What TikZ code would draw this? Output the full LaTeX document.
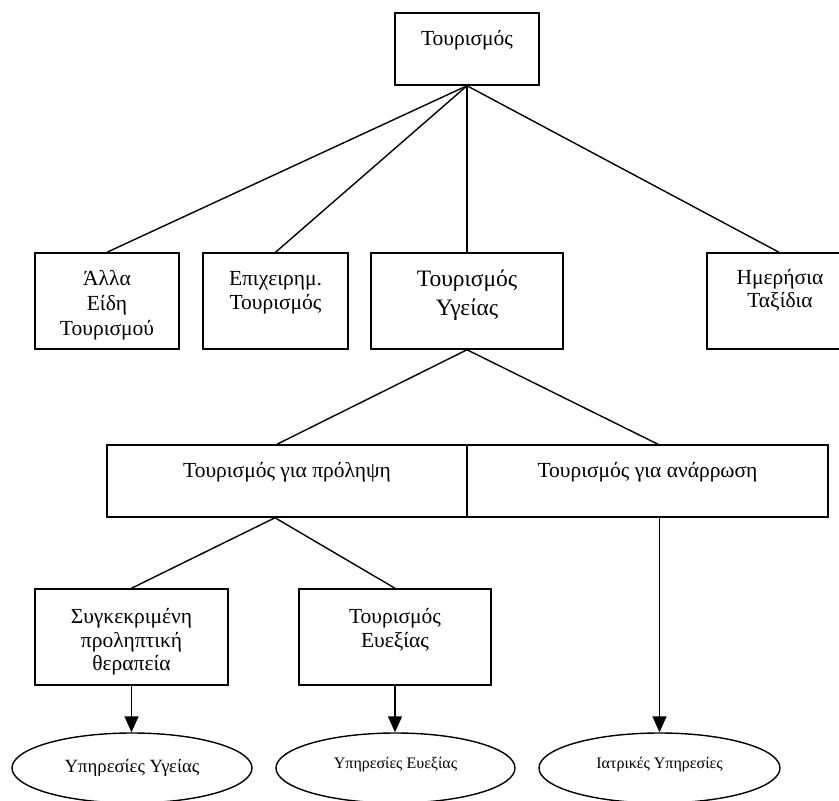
\documentclass[tikz,border=0pt]{standalone}
\usepackage{fontspec}
\setmainfont{Liberation Serif}
\usetikzlibrary{arrows.meta,shapes.geometric}
\begin{document}
\begin{tikzpicture}[x=1pt,y=-1pt,
  box/.style={draw,line width=1.5pt,rectangle,inner sep=0pt},
  oval/.style={draw,line width=1.4pt,ellipse,inner sep=0pt,minimum width=240pt,minimum height=70pt},
  txt/.style={inner sep=0pt,anchor=base,font=\fontsize{21.5}{25}\selectfont},
  bigtxt/.style={txt,font=\fontsize{23.5}{28}\selectfont},
  conn/.style={line width=1.4pt},
  arr/.style={line width=1.4pt,-{Triangle[length=16pt,width=14pt]}}]
\fill[white] (0,0) rectangle (839,801);
\useasboundingbox (0,0) rectangle (839,801);

% top
\node[box,minimum width=144pt,minimum height=72pt] (top) at (467,49) {};
\node[txt] (topt) at (467,45) {Τουρισμός};

% level 2
\node[box,minimum width=144pt,minimum height=96pt] (b1) at (107,301) {};
\node[txt] (b1a) at (107,285) {Άλλα};
\node[txt] (b1b) at (107,310) {Είδη};
\node[txt] (b1c) at (107,335) {Τουρισμού};

\node[box,minimum width=145pt,minimum height=96pt] (b2) at (275.5,301) {};
\node[txt] (b2a) at (275.5,285) {Επιχειρημ.};
\node[txt] (b2b) at (275.5,309) {Τουρισμός};

\node[box,minimum width=192pt,minimum height=96pt] (b3) at (467,301) {};
\node[bigtxt] (b3a) at (467,286) {Τουρισμός};
\node[bigtxt] (b3b) at (467,315) {Υγείας};

\node[box,minimum width=144pt,minimum height=96pt] (b4) at (779,301) {};
\node[txt] (b4a) at (780,284) {Ημερήσια};
\node[txt] (b4b) at (780,307) {Ταξίδια};

% level 3
\node[box,minimum width=360pt,minimum height=72pt] (L) at (287,481) {};
\node[txt] (Lt) at (287,477) {Τουρισμός για πρόληψη};
\node[box,minimum width=361pt,minimum height=72pt] (R) at (647.5,481) {};
\node[txt] (Rt) at (647.5,477) {Τουρισμός για ανάρρωση};

% level 4
\node[box,minimum width=193pt,minimum height=96pt] (B1) at (131.5,637) {};
\node[txt] (B1a) at (131.5,623) {Συγκεκριμένη};
\node[txt] (B1b) at (131.5,647) {προληπτική};
\node[txt] (B1c) at (131.5,670) {θεραπεία};

\node[box,minimum width=192pt,minimum height=96pt] (B2) at (395,637) {};
\node[txt] (B2a) at (395,623) {Τουρισμός};
\node[txt] (B2b) at (395,647) {Ευεξίας};

% ellipses
\node[oval] (E1) at (132,768) {};
\node[txt,font=\fontsize{18.7}{22}\selectfont] (E1t) at (132,772) {Υπηρεσίες Υγείας};
\node[oval,minimum width=239pt] (E2) at (395.5,768) {};
\node[txt,font=\fontsize{16}{19}\selectfont] (E2t) at (395.5,768) {Υπηρεσίες Ευεξίας};
\node[oval,minimum width=241pt] (E3) at (659.5,768) {};
\node[txt,font=\fontsize{16}{19}\selectfont] (E3t) at (659.5,768) {Ιατρικές Υπηρεσίες};

% connectors
\draw[conn] (top.south) -- (b1.north);
\draw[conn] (top.south) -- (b2.north);
\draw[conn] (top.south) -- (b3.north);
\draw[conn] (top.south) -- (b4.north);
\draw[conn] (b3.south) -- ([xshift=-10pt]L.north);
\draw[conn] (b3.south) -- ([xshift=10.5pt]R.north);
\draw[conn] ([xshift=-12pt]L.south) -- (B1.north);
\draw[conn] ([xshift=-12pt]L.south) -- (B2.north);
\draw[arr] (B1.south) -- (B1.south |- E1.north);
\draw[arr] (B2.south) -- (B2.south |- E2.north);
\draw[arr] (E3.north |- R.south) -- (E3.north);
\end{tikzpicture}
\end{document}
